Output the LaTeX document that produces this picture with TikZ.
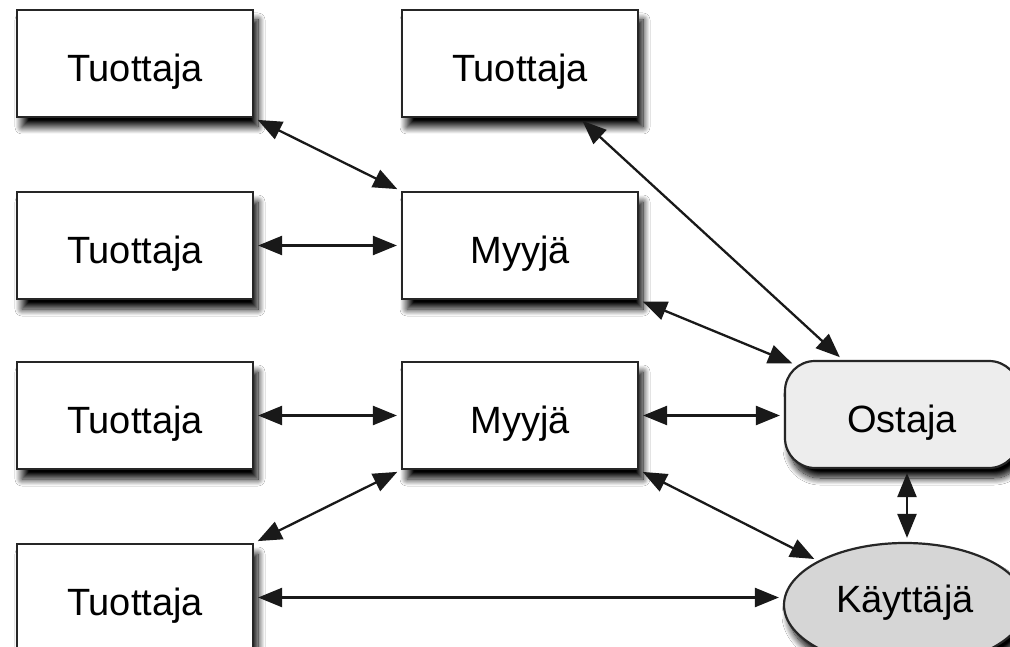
\documentclass[tikz,border=0pt]{standalone}
\usepackage{fontspec}
\setmainfont{Liberation Sans}
\usetikzlibrary{arrows.meta,shapes.geometric,calc,shadows.blur}
\tikzset{
  box/.style={draw=black!85, line width=2.2pt, fill=white, minimum width=236pt, minimum height=107pt,
    inner sep=0pt, font=\fontsize{38}{44}\selectfont, text height=36pt, text depth=0pt,
    blur shadow={shadow xshift=5pt, shadow yshift=-10pt, shadow blur radius=7pt, shadow blur steps=14, shadow opacity=100}},
  buyer/.style={box, rounded corners=30pt, fill=black!7, minimum width=234pt},
  userell/.style={box, ellipse, fill=black!16, minimum width=242pt, minimum height=124pt, text height=14pt},
  link/.style={line width=2.3pt, black!90, {Triangle[length=24pt,width=19pt]}-{Triangle[length=24pt,width=19pt]}, shorten <=4pt, shorten >=4pt}
}
\begin{document}
\begin{tikzpicture}[x=1pt,y=-1pt]
\path[use as bounding box, clip] (0,0) rectangle (1010,647);
\fill[white] (0,0) rectangle (1010,647);
\node[box] (t1) at (135,63.5) {Tuottaja};
\node[box] (t0) at (520,63.5) {Tuottaja};
\node[box] (t2) at (135,245.5) {Tuottaja};
\node[box] (m1) at (520,245.5) {Myyjä};
\node[box] (t3) at (135,415.5) {Tuottaja};
\node[box] (m2) at (520,415.5) {Myyjä};
\node[box] (t4) at (135,597.5) {Tuottaja};
\node[buyer] (os) at (902,414.5) {Ostaja};
\node[userell] (ka) at (905,605) {Käyttäjä};
\coordinate (osin) at ($(os.north west)+(12,5)$);
\draw[link] (t1.south east) -- (m1.north west);
\draw[link] (t2) -- (m1);
\draw[link] (t3) -- (m2);
\draw[link] (t0) -- (os);
\draw[link] (m1.south east) -- (osin);
\draw[link] (m2.east) -- (m2.east -| os.west);
\draw[link] (m2.south east) -- (ka);
\draw[link] (m2.south west) -- (t4.north east);
\draw[link] (t4.east) -- (t4.east -| ka.west);
\draw[link] ([xshift=2pt]ka.north |- os.south) -- ([xshift=2pt]ka.north);
\end{tikzpicture}
\end{document}
